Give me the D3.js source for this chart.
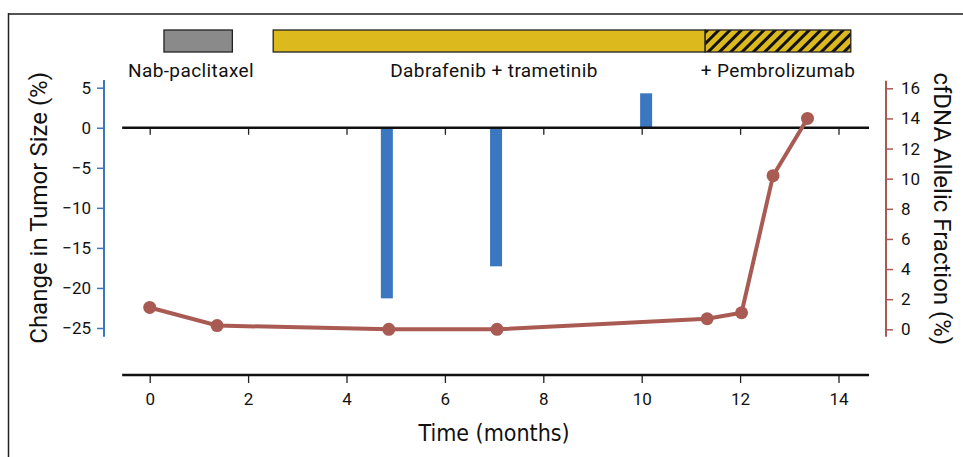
<!DOCTYPE html>
<html>
<head>
<meta charset="utf-8">
<script src="https://cdn.jsdelivr.net/npm/d3@7"></script>
<style>
  body { margin: 0; background: #fff; }
  svg { display: block; }
  .narrow { font-family: "Liberation Sans Narrow", "DejaVu Sans Condensed", "Roboto", sans-serif; }
  .tick text { font-family: "Roboto", "Liberation Sans", sans-serif; }
</style>
</head>
<body>
<div id="chart"></div>
<script>
// Treatment periods (months)
const treatments = ['Nab-paclitaxel', 'Dabrafenib + trametinib', '+ Pembrolizumab'];
const treatStart = [0.29, 2.51, 11.29];
const treatEnd = [1.68, 11.29, 14.25];

// Tumor size change (bars)
const tumorTimes = [4.82, 7.04, 10.09];
const tumorChange = [-21.3, -17.3, 4.3];

// cfDNA allelic fraction (line)
const cfdnaTimes = [0, 1.37, 4.86, 7.06, 11.33, 12.03, 12.67, 13.37];
const cfdnaValues = [1.45, 0.25, 0, 0, 0.7, 1.1, 10.2, 14.0];

const timeTicks = [0, 2, 4, 6, 8, 10, 12, 14];
const leftTicks = [5, 0, -5, -10, -15, -20, -25];
const rightTicks = [0, 2, 4, 6, 8, 10, 12, 14, 16];

const W = 963, H = 457;
const blue = '#3a77c0', red = '#a95b53', yellow = '#dcba1e';

const svg = d3.select('#chart').append('svg')
    .attr('width', W)
    .attr('height', H);

// hatch pattern for the pembrolizumab period
const defs = svg.append('defs');
const pat = defs.append('pattern')
    .attr('id', 'hatch')
    .attr('patternUnits', 'userSpaceOnUse')
    .attr('width', 8)
    .attr('height', 8)
    .attr('patternTransform', 'rotate(45)');
pat.append('rect').attr('width', 8).attr('height', 8).attr('fill', yellow);
pat.append('rect').attr('width', 3).attr('height', 8).attr('fill', '#111');

// frame
svg.append('line').attr('x1', 8).attr('x2', W).attr('y1', 14).attr('y2', 14)
    .attr('stroke', '#555').attr('stroke-width', 2);
svg.append('line').attr('x1', 8.5).attr('x2', 8.5).attr('y1', 13).attr('y2', H)
    .attr('stroke', '#222').attr('stroke-width', 1.5);

// scales
const x = d3.scaleLinear().domain([0, 14]).range([149.7, 838.5]);
const yL = d3.scaleLinear().domain([-25, 5]).range([328, 87.7]);
const yR = d3.scaleLinear().domain([0, 16]).range([329.3, 88.3]);

// treatment bars
const tr = treatments.map((name, i) => ({ name, start: treatStart[i], end: treatEnd[i] }));
const barColors = ['#8a8a8a', yellow, 'url(#hatch)'];
const labelX = [191, 494, 778];
svg.selectAll('.treat')
    .data(tr)
    .enter()
    .append('rect')
    .attr('class', 'treat')
    .attr('x', d => x(d.start))
    .attr('y', 30)
    .attr('width', d => x(d.end) - x(d.start))
    .attr('height', 22)
    .attr('fill', (d, i) => barColors[i])
    .attr('stroke', '#222')
    .attr('stroke-width', 1.3);

svg.selectAll('.treat-label')
    .data(tr)
    .enter()
    .append('text')
    .attr('class', 'treat-label')
    .attr('x', (d, i) => labelX[i])
    .attr('y', 77)
    .attr('text-anchor', 'middle')
    .style('font-family', 'Roboto, sans-serif')
    .style('font-size', '19px')
    .style('letter-spacing', '0.4px')
    .style('fill', '#111')
    .text(d => d.name);

// tumor bars
const bars = tumorTimes.map((t, i) => ({ t, v: tumorChange[i] }));
svg.selectAll('.bar')
    .data(bars)
    .enter()
    .append('rect')
    .attr('class', 'bar')
    .attr('x', d => x(d.t) - 6)
    .attr('width', 12)
    .attr('y', d => yL(Math.max(0, d.v)))
    .attr('height', d => Math.abs(yL(d.v) - yL(0)))
    .attr('fill', blue);

// zero line with small ticks
const zeroAxis = svg.append('g')
    .attr('transform', `translate(0,${yL(0)})`)
    .call(d3.axisBottom(x).tickValues(timeTicks).tickSize(7).tickSizeOuter(0).tickFormat(''));
zeroAxis.select('.domain').remove();
zeroAxis.selectAll('.tick line').attr('stroke', '#222').attr('stroke-width', 1.3);
svg.append('line')
    .attr('x1', x(-0.56)).attr('x2', x(14.62))
    .attr('y1', yL(0)).attr('y2', yL(0))
    .attr('stroke', '#111').attr('stroke-width', 2.5);

// cfDNA line
const pts = cfdnaTimes.map((t, i) => ({ t, v: cfdnaValues[i] }));
svg.append('path')
    .datum(pts)
    .attr('fill', 'none')
    .attr('stroke', red)
    .attr('stroke-width', 4)
    .attr('d', d3.line().x(d => x(d.t)).y(d => yR(d.v)));
svg.selectAll('.pt')
    .data(pts)
    .enter()
    .append('circle')
    .attr('class', 'pt')
    .attr('cx', d => x(d.t))
    .attr('cy', d => yR(d.v))
    .attr('r', 6.5)
    .attr('fill', red);

// left axis
const gL = svg.append('g')
    .attr('transform', 'translate(104,0)')
    .call(d3.axisLeft(yL).tickValues(leftTicks).tickSize(7).tickSizeOuter(0).tickPadding(6));
gL.select('.domain').remove();
gL.selectAll('.tick line').attr('stroke', blue).attr('stroke-width', 1.5);
gL.selectAll('.tick text').style('font-size', '17px').style('fill', '#111');
gL.append('line').attr('x1', 0).attr('x2', 0)
    .attr('y1', yL(5.95)).attr('y2', yL(-26.1))
    .attr('stroke', blue).attr('stroke-width', 2);

svg.append('text')
    .attr('transform', `translate(47,${(yL(5) + yL(-25)) / 2}) rotate(-90)`)
    .attr('text-anchor', 'middle')
    .style('font-family', 'Roboto, sans-serif')
    .style('font-size', '24px')
    .style('fill', '#111')
    .text('Change in Tumor Size (%)');

// right axis
const gR = svg.append('g')
    .attr('transform', 'translate(886,0)')
    .call(d3.axisRight(yR).tickValues(rightTicks).tickSize(7).tickSizeOuter(0).tickPadding(8));
gR.select('.domain').remove();
gR.selectAll('.tick line').attr('stroke', red).attr('stroke-width', 1.5);
gR.selectAll('.tick text').style('font-size', '17px').style('fill', '#111');
gR.append('line').attr('x1', 0).attr('x2', 0)
    .attr('y1', yR(16.5)).attr('y2', yR(-0.5))
    .attr('stroke', red).attr('stroke-width', 2);

svg.append('text')
    .attr('transform', `translate(934,${(yR(0) + yR(16)) / 2}) rotate(90)`)
    .attr('text-anchor', 'middle')
    .style('font-family', 'Roboto, sans-serif')
    .style('font-size', '24px')
    .style('fill', '#111')
    .text('cfDNA Allelic Fraction (%)');

// bottom time axis
const gB = svg.append('g')
    .attr('transform', 'translate(0,375)')
    .call(d3.axisBottom(x).tickValues(timeTicks).tickSize(8).tickSizeOuter(0).tickPadding(10));
gB.select('.domain').remove();
gB.selectAll('.tick line').attr('stroke', '#222').attr('stroke-width', 1.3);
gB.selectAll('.tick text').attr('class', 'narrow').style('font-size', '17px').style('fill', '#111');
gB.append('line')
    .attr('x1', x(-0.56)).attr('x2', x(14.62))
    .attr('y1', 0).attr('y2', 0)
    .attr('stroke', '#111').attr('stroke-width', 2.5);

svg.append('text')
    .attr('class', 'narrow')
    .attr('x', (x(0) + x(14)) / 2)
    .attr('y', 441)
    .attr('text-anchor', 'middle')
    .style('font-size', '23px')
    .style('fill', '#111')
    .text('Time (months)');
</script>
</body>
</html>
